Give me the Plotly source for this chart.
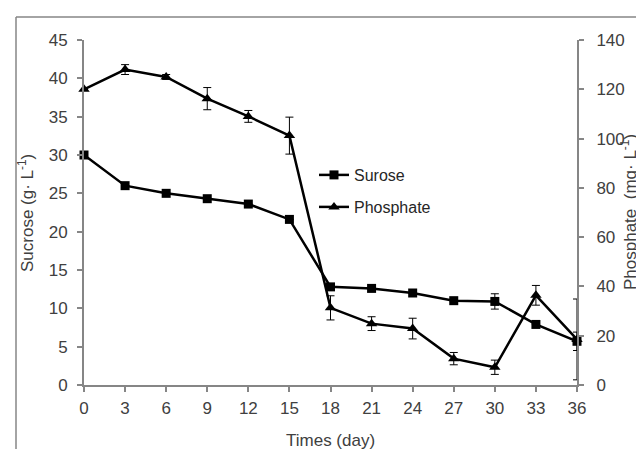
import plotly.graph_objects as go

days = [0, 3, 6, 9, 12, 15, 18, 21, 24, 27, 30, 33, 36]
sucrose = [30.0, 26.0, 25.0, 24.3, 23.6, 21.6, 12.8, 12.6, 12.0, 11.0, 10.9, 7.9, 5.7]
sucrose_err = [0, 0, 0, 0, 0, 0, 0, 0, 0, 0, 1.0, 0, 1.2]
phosphate = [120.0, 128.0, 125.0, 116.2, 109.0, 101.2, 31.3, 24.9, 22.9, 10.7, 7.2, 36.4, 18.5]
phosphate_err = [0, 2.0, 1.0, 4.5, 2.4, 7.5, 4.9, 2.8, 4.2, 2.5, 2.9, 4.0, 16.4]

x_ticks = list(range(0, 37, 3))
y1_ticks = list(range(0, 46, 5))
y2_ticks = list(range(0, 141, 20))

W, H = 644, 449
L, R, T, B = 76, 75, 32, 72
pw, ph = W - L - R, H - T - B

def px(xp):
    return (xp - L) / pw

def py(yp):
    return (H - B - yp) / ph

FONT = "Liberation Sans, Arial, sans-serif"
TXT = "#404040"
AX = "#868686"

fig = go.Figure()
fig.add_trace(go.Scatter(
    x=days, y=sucrose, name="Surose", mode="lines+markers",
    line=dict(color="black", width=2.5),
    marker=dict(symbol="square", size=9, color="black"),
    error_y=dict(type="data", array=sucrose_err, color="black", thickness=1, width=4),
    cliponaxis=False, legend="legend",
))
fig.add_trace(go.Scatter(
    x=days, y=phosphate, name="Phosphate", mode="lines+markers", yaxis="y2",
    line=dict(color="black", width=2.5),
    marker=dict(symbol="triangle-up", size=10, color="black"),
    error_y=dict(type="data", array=phosphate_err, color="black", thickness=1, width=4),
    cliponaxis=False, legend="legend2",
))

axis_common = dict(
    showline=True, linecolor=AX, linewidth=2, ticks="outside", ticklen=5,
    tickcolor=AX, tickwidth=1.5, showgrid=False, zeroline=False,
    tickfont=dict(family=FONT, size=17, color=TXT),
)

leg_font = dict(family=FONT, size=16, color="#262626")
fig.update_layout(
    width=W, height=H,
    margin=dict(l=L, r=R, t=T, b=B, autoexpand=False),
    paper_bgcolor="white", plot_bgcolor="white",
    xaxis=dict(range=[0, 36], tickvals=x_ticks, ticklabelstandoff=2, **axis_common),
    yaxis=dict(range=[0, 45], tickvals=y1_ticks, ticklabelstandoff=6, **axis_common),
    yaxis2=dict(range=[0, 140], tickvals=y2_ticks, overlaying="y", side="right",
                ticklabelstandoff=9, **axis_common),
    legend=dict(x=px(306), y=py(167), xanchor="left", yanchor="middle",
                bgcolor="rgba(0,0,0,0)", font=leg_font),
    legend2=dict(x=px(306), y=py(199), xanchor="left", yanchor="middle",
                 bgcolor="rgba(0,0,0,0)", font=leg_font),
    showlegend=True,
)

fig.add_annotation(text="Times (day)", x=px(322), y=py(432), xref="paper", yref="paper",
                   xanchor="center", yanchor="middle",
                   showarrow=False, font=dict(family=FONT, size=17, color=TXT))
fig.add_annotation(text="Sucrose (g· L<sup>-1</sup>)", x=px(18), y=py(205), xref="paper", yref="paper",
                   xanchor="center", yanchor="middle",
                   showarrow=False, textangle=-90, font=dict(family=FONT, size=17, color=TXT))
fig.add_annotation(text="Phosphate  (mg· L<sup>-1</sup>)", x=px(621), y=py(204), xref="paper", yref="paper",
                   xanchor="center", yanchor="middle",
                   showarrow=False, textangle=-90, font=dict(family=FONT, size=17, color=TXT))

# outer chart-area frame (top and left edges visible)
fig.add_shape(type="line", xref="paper", yref="paper", x0=px(8), x1=px(W + 5), y0=py(9), y1=py(9),
              line=dict(color=AX, width=1.5))
fig.add_shape(type="line", xref="paper", yref="paper", x0=px(8), x1=px(8), y0=py(9), y1=py(H + 5),
              line=dict(color=AX, width=1.5))

fig.write_html("out.html")
